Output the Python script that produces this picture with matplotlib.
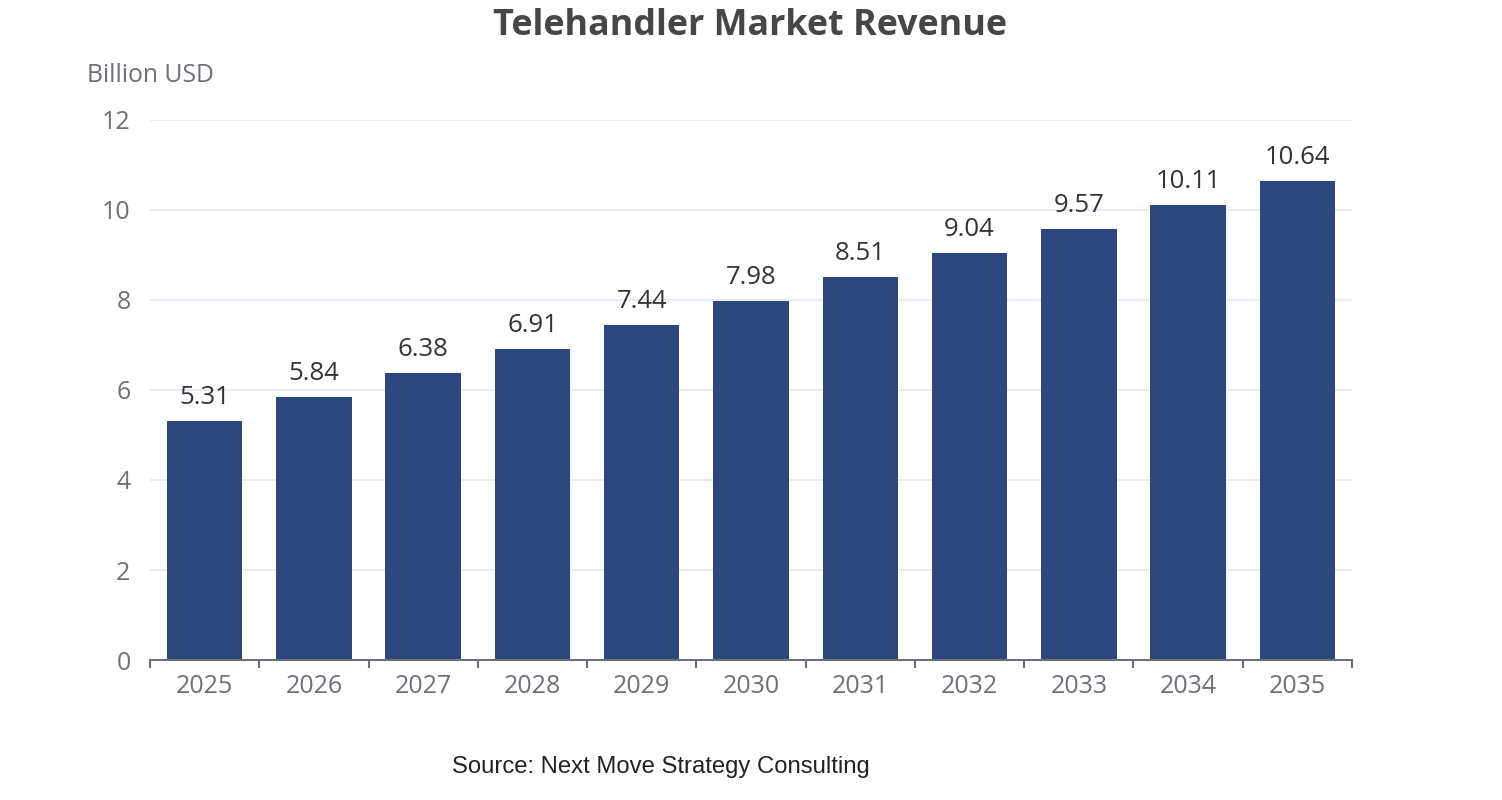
import matplotlib
matplotlib.use("Agg")
import matplotlib.pyplot as plt

years = ["2025", "2026", "2027", "2028", "2029", "2030", "2031", "2032", "2033", "2034", "2035"]
revenue = [5.31, 5.84, 6.38, 6.91, 7.44, 7.98, 8.51, 9.04, 9.57, 10.11, 10.64]
yticks = [0, 2, 4, 6, 8, 10, 12]

plt.rcParams['font.family'] = ['Open Sans', 'Noto Sans', 'DejaVu Sans']

W, H = 1502, 800
fig = plt.figure(figsize=(W / 100, H / 100), dpi=100)
left, right, top, bottom = 150, 1352, 120, 660
ax = fig.add_axes([left / W, 1 - bottom / H, (right - left) / W, (bottom - top) / H])

x = list(range(len(years)))
bars = ax.bar(x, revenue, width=0.69, color="#2b477b", zorder=3)
for xi, v in zip(x, revenue):
    ax.text(xi, v + 0.25, f"{v:.2f}", ha="center", va="bottom", fontsize=18.5, color="#333333")

ax.set_xlim(-0.5, len(years) - 0.5)
ax.set_ylim(0, 12)
ax.set_yticks(yticks)
ax.set_yticklabels([str(t) for t in yticks], fontsize=18, color="#6e7079")
ax.yaxis.grid(True, color="#e0e6f1", linewidth=1.2, zorder=0)
ax.tick_params(axis="y", length=0, pad=14)

ax.set_xticks(x)
ax.set_xticklabels(years, fontsize=18, color="#6e7079")
ax.set_xticks([i - 0.5 for i in range(len(years) + 1)], minor=True)
ax.tick_params(axis="x", which="major", length=0, pad=10)
ax.tick_params(axis="x", which="minor", length=6, width=1.5, color="#6e7079")

for s in ["top", "right", "left"]:
    ax.spines[s].set_visible(False)
ax.spines["bottom"].set_color("#6e7079")
ax.spines["bottom"].set_linewidth(1.5)
ax.spines["bottom"].set_zorder(4)

fig.text(750 / W, 1 - 26 / H, "Telehandler Market Revenue", ha="center", va="center",
         fontsize=25.8, fontweight="bold", color="#464646")
fig.text(87 / W, 1 - 75 / H, "Billion USD", ha="left", va="center", fontsize=17.8, color="#6e7079")
fig.text(661 / W, 1 - 767 / H, "Source: Next Move Strategy Consulting", ha="center", va="center",
         fontsize=17.2, color="#222222", family=["Liberation Sans", "DejaVu Sans"])

fig.savefig("out.png", dpi=100)
